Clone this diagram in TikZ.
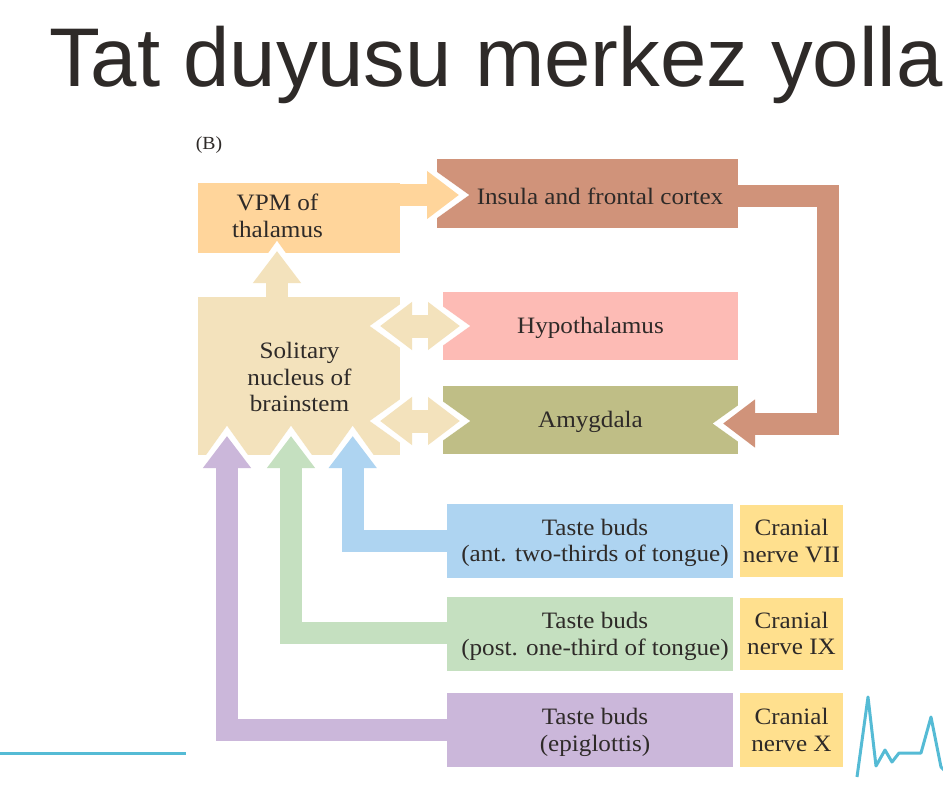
\documentclass[tikz,border=0pt]{standalone}
\usepackage{fontspec}
\setmainfont[FakeStretch=1.07]{Liberation Serif}
\newfontfamily\titlefont{Liberation Sans}
\usetikzlibrary{arrows.meta,calc}
\definecolor{ink}{HTML}{2E2A28}
\definecolor{vpmc}{HTML}{FFD59B}
\definecolor{solc}{HTML}{F3E2BC}
\definecolor{insc}{HTML}{D0937A}
\definecolor{hypc}{HTML}{FDBBB5}
\definecolor{amyc}{HTML}{BFBE86}
\definecolor{bluec}{HTML}{AED4F1}
\definecolor{greenc}{HTML}{C5E0C0}
\definecolor{purpc}{HTML}{CBB7DA}
\definecolor{crac}{HTML}{FFE08E}
\definecolor{linec}{HTML}{55BBD5}
\newcommand{\lowered}[1]{\raisebox{-2.5pt}[\height][\depth]{\begin{tabular}{@{}c@{}}#1\end{tabular}}}
\tikzset{
  boxn/.style={inner sep=0pt,outer sep=0pt,align=center,text=ink,font=\fontsize{23.5}{26.5}\selectfont},
  plain/.style={inner sep=0pt,outer sep=0pt,align=center,text=ink,font=\fontsize{23.5}{26.5}\selectfont},
  fatline/.style={line width=22pt,line cap=butt,miter limit=10},
  headtip/.style={-{Triangle[length=32pt,width=46pt]}},
  halotip/.style={white,line width=0.1pt,shorten >=-10pt,-{Triangle[length=42pt,width=60pt]}},
  deco/.style={linec,line width=3pt,line join=round}
}
\newcommand{\fatarrow}[2]{%
  \draw[halotip] #2;
  \draw[fatline,headtip,#1] #2;
}
\begin{document}
\begin{tikzpicture}[x=1pt,y=-1pt]
\useasboundingbox (0,0) rectangle (943,785);
\fill[white] (0,0) rectangle (943,785);
% title
\node[anchor=base west,inner sep=0pt,text=ink,font=\titlefont\fontsize{83.3}{85}\selectfont] (title) at (49,86.5) {Tat duyusu merkez yolla};
\node[plain,font=\fontsize{18.5}{22}\selectfont] (blabel) at (209,145) {(B)};
% boxes
\node[boxn,fill=vpmc,minimum width=202.5pt,minimum height=70pt] (vpm) at (298.75,218) {};
\node[boxn,fill=solc,minimum width=202.5pt,minimum height=158pt] (sol) at (298.75,376) {};
\node[boxn,fill=insc,minimum width=301pt,minimum height=69pt] (ins) at (587.5,193.5) {\raisebox{-3pt}[\height][\depth]{\hspace*{25pt}Insula and frontal cortex}};
\node[boxn,fill=hypc,minimum width=295pt,minimum height=68pt] (hyp) at (590.5,326) {\lowered{Hypothalamus}};
\node[boxn,fill=amyc,minimum width=295pt,minimum height=68pt] (amy) at (590.5,420) {\lowered{Amygdala}};
\node[boxn,fill=bluec,minimum width=286pt,minimum height=74.5pt] (tb1) at (590,540.75) {\hspace*{10pt}\lowered{Taste buds\\(ant. two-thirds of tongue)}};
\node[boxn,fill=greenc,minimum width=286pt,minimum height=74pt] (tb2) at (590,634) {\hspace*{10pt}\lowered{Taste buds\\(post. one-third of tongue)}};
\node[boxn,fill=purpc,minimum width=286pt,minimum height=74pt] (tb3) at (590,730) {\hspace*{10pt}\lowered{Taste buds\\(epiglottis)}};
\node[boxn,fill=crac,minimum width=103pt,minimum height=72pt] (cn1) at (791.5,541) {\lowered{Cranial\\nerve VII}};
\node[boxn,fill=crac,minimum width=103pt,minimum height=72pt] (cn2) at (791.5,633.5) {\lowered{Cranial\\nerve IX}};
\node[boxn,fill=crac,minimum width=103pt,minimum height=74pt] (cn3) at (791.5,730) {\lowered{Cranial\\nerve X}};
% tips
\coordinate (vpmtip) at (459,195);
\coordinate (thaltip) at (277,251);
\coordinate (amytip) at (723,423.5);
\coordinate (corner) at (828,195.5);
\coordinate (p1) at (227,436);
\coordinate (p2) at (291,436);
\coordinate (p3) at (352.7,436);
\coordinate (hl) at (380,326);
\coordinate (hr) at (460,326);
\coordinate (al) at (380,421);
\coordinate (ar) at (460,421);
% connectors
\fatarrow{vpmc}{([yshift=23pt]vpm.east) -- (vpmtip)}
\fatarrow{solc}{(sol.north -| thaltip) -- (thaltip)}
\fatarrow{insc}{([yshift=-2pt]ins.east) -| (corner |- amytip) -- (amytip)}
\foreach \a/\b in {hl/hr,hr/hl,al/ar,ar/al}{
  \draw[halotip] ($(\a)!0.5!(\b)$) -- (\b);
}
\foreach \a/\b in {hl/hr,al/ar}{
  \draw[solc,line width=23pt,{Triangle[length=32pt,width=46pt]}-{Triangle[length=32pt,width=46pt]}] (\a) -- (\b);
}
\fatarrow{bluec}{(tb1.west) -| (p3)}
\fatarrow{greenc}{([yshift=1pt]tb2.west) -| (p2)}
\fatarrow{purpc}{(tb3.west) -| (p1)}
% labels on top
\node[plain] (vpmtext) at (277.5,216) {VPM of\\thalamus};
\node[plain] (soltext) at (299.5,377) {Solitary\\nucleus of\\brainstem};
% decorative lines
\draw[deco] (0,753) -- (186,753);
\draw[deco] (857,777) -- (868,697) -- (876,766) -- (885,750) -- (892,762) -- (899,753) -- (921,753) -- (931,717) -- (941,767) -- (946,772);
\end{tikzpicture}
\end{document}
